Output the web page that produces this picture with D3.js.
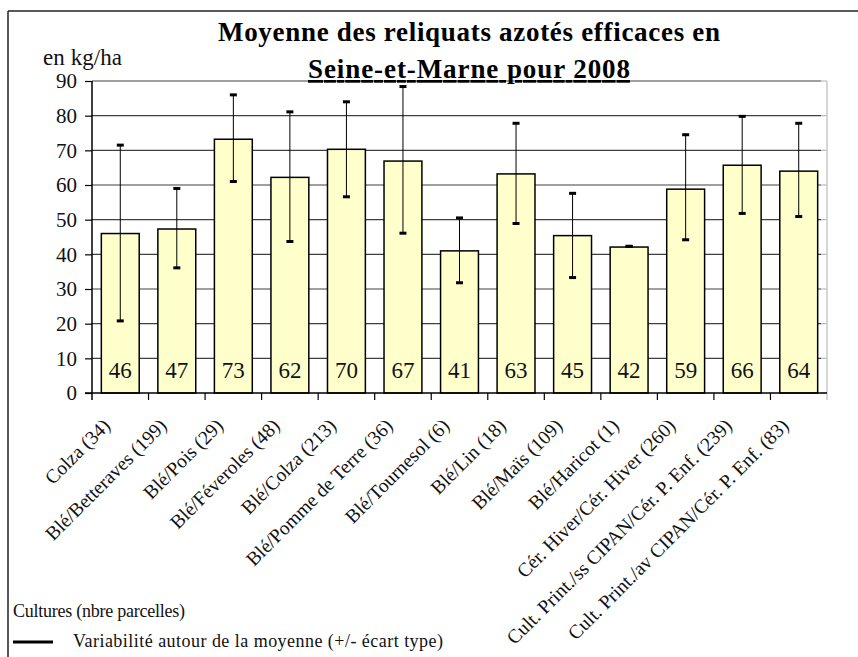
<!DOCTYPE html>
<html>
<head>
<meta charset="utf-8">
<script src="https://cdn.jsdelivr.net/npm/d3@7"></script>
<style>
  html, body { margin: 0; padding: 0; background: #fff; }
  #chart text { font-family: 'Liberation Serif'; }
</style>
</head>
<body>
<svg id="chart" width="858" height="657" font-family="Liberation Serif"></svg>
<script>
// Cultures (nbre parcelles)
const categories = [
  'Colza (34)', 'Blé/Betteraves (199)', 'Blé/Pois (29)', 'Blé/Féveroles (48)',
  'Blé/Colza (213)', 'Blé/Pomme de Terre (36)', 'Blé/Tournesol (6)', 'Blé/Lin (18)',
  'Blé/Maïs (109)', 'Blé/Haricot (1)', 'Cér. Hiver/Cér. Hiver (260)',
  'Cult. Print./ss CIPAN/Cér. P. Enf. (239)', 'Cult. Print./av CIPAN/Cér. P. Enf. (83)'
];
// moyenne des reliquats (kg/ha)
const means   = [46, 47.3, 73.2, 62.2, 70.3, 66.9, 41, 63.2, 45.4, 42.1, 58.8, 65.7, 64];
// bornes de l'écart type (moyenne -/+ écart type)
const errLow  = [20.8, 36.1, 61.0, 43.7, 56.6, 46.1, 31.8, 48.9, 33.3, 42.3, 44.2, 51.8, 50.9];
const errHigh = [71.5, 59.0, 86.0, 81.1, 84.0, 88.4, 50.5, 77.8, 57.6, 42.3, 74.5, 79.8, 77.8];
const yTicks  = [0, 10, 20, 30, 40, 50, 60, 70, 80, 90];

const data = categories.map((c, i) => ({ cat: c, mean: means[i], lo: errLow[i], hi: errHigh[i] }));

const svg = d3.select('#chart');

const x = d3.scaleBand().domain(categories).range([92, 827]).padding(0);
const y = d3.scaleLinear().domain([0, 90]).range([393, 81]);
const barW = x.bandwidth() * 0.67;
const cx = d => x(d.cat) + x.bandwidth() / 2;

function txt(sel, size) {
  return sel.attr('font-family', 'Liberation Serif')
    .style('font-family', "'Liberation Serif'")
    .attr('font-size', size)
    .attr('fill', '#111');
}

// outer frame (top + left only visible)
svg.append('line').attr('x1', 8).attr('x2', 858).attr('y1', 11).attr('y2', 11)
  .attr('stroke', '#222').attr('stroke-width', 1.5);
svg.append('line').attr('x1', 8).attr('x2', 8).attr('y1', 11).attr('y2', 657)
  .attr('stroke', '#222').attr('stroke-width', 1.5);

// gridlines
svg.append('g')
  .selectAll('line')
  .data(yTicks.filter(t => t > 0))
  .join('line')
    .attr('x1', 92).attr('x2', 821)
    .attr('y1', d => y(d)).attr('y2', d => y(d))
    .attr('stroke', '#404040').attr('stroke-width', 1.2);
svg.append('g')
  .selectAll('line')
  .data(yTicks)
  .join('line')
    .attr('x1', 821).attr('x2', 827)
    .attr('y1', d => y(d)).attr('y2', d => y(d))
    .attr('stroke', '#bbb').attr('stroke-width', 1.2);

// right plot border (light)
svg.append('line').attr('x1', 827).attr('x2', 827).attr('y1', y(90)).attr('y2', y(0) + 7)
  .attr('stroke', '#c8c8c8').attr('stroke-width', 1.5);

// bars
svg.append('g')
  .selectAll('rect')
  .data(data)
  .join('rect')
    .attr('x', d => cx(d) - barW / 2)
    .attr('y', d => y(d.mean))
    .attr('width', barW)
    .attr('height', d => y(0) - y(d.mean))
    .attr('fill', '#ffffcc')
    .attr('stroke', '#000')
    .attr('stroke-width', 1.5);

// value labels
svg.append('g')
  .selectAll('text')
  .data(data)
  .join('text')
    .attr('x', d => cx(d))
    .attr('y', y(0) - 15)
    .attr('text-anchor', 'middle')
    .call(txt, 23)
    .text(d => Math.round(d.mean));

// error bars
const err = svg.append('g').selectAll('g').data(data).join('g');
err.append('line')
  .attr('x1', d => cx(d)).attr('x2', d => cx(d))
  .attr('y1', d => y(d.hi)).attr('y2', d => y(d.lo))
  .attr('stroke', '#000').attr('stroke-width', 1);
err.append('line')
  .attr('x1', d => cx(d) - 3.5).attr('x2', d => cx(d) + 3.5)
  .attr('y1', d => y(d.hi)).attr('y2', d => y(d.hi))
  .attr('stroke', '#000').attr('stroke-width', 3);
err.append('line')
  .attr('x1', d => cx(d) - 3.5).attr('x2', d => cx(d) + 3.5)
  .attr('y1', d => y(d.lo)).attr('y2', d => y(d.lo))
  .attr('stroke', '#000').attr('stroke-width', 3);

// y axis
const yAxis = svg.append('g')
  .attr('transform', 'translate(92,0)')
  .call(d3.axisLeft(y).tickValues(yTicks).tickSize(7).tickPadding(8).tickFormat(d3.format('d')));
yAxis.attr('font-family', 'Liberation Serif');
yAxis.select('.domain').attr('d', `M0,${y(90)}V${y(0) + 7}`).attr('stroke', '#000').attr('stroke-width', 1.5);
yAxis.selectAll('.tick line').attr('stroke', '#000').attr('stroke-width', 1.2);
yAxis.selectAll('.tick text').call(txt, 21);

// x axis baseline + ticks at band boundaries
svg.append('line').attr('x1', 85).attr('x2', 827).attr('y1', y(0)).attr('y2', y(0))
  .attr('stroke', '#000').attr('stroke-width', 1.5);
svg.append('g')
  .selectAll('line')
  .data(categories.slice(1).map(c => x(c)))
  .join('line')
    .attr('x1', d => d).attr('x2', d => d)
    .attr('y1', y(0)).attr('y2', y(0) + 7)
    .attr('stroke', '#000').attr('stroke-width', 1.2);

// x labels rotated
svg.append('g')
  .selectAll('text')
  .data(data)
  .join('text')
    .attr('transform', d => `translate(${cx(d) - 9},${y(0) + 34}) rotate(-45)`)
    .attr('text-anchor', 'end')
    .call(txt, 19.5)
    .text(d => d.cat);

// titles (wide spacing as in the original)
svg.append('text')
  .attr('x', 218).attr('y', 41)
  .call(txt, 27)
  .attr('font-weight', 'bold').attr('fill', '#000')
  .attr('textLength', 502).attr('lengthAdjust', 'spacing')
  .text('Moyenne des reliquats azotés efficaces en');
svg.append('text')
  .attr('x', 308).attr('y', 78)
  .call(txt, 27)
  .attr('font-weight', 'bold').attr('fill', '#000')
  .attr('textLength', 322).attr('lengthAdjust', 'spacing')
  .attr('text-decoration', 'underline')
  .text('Seine-et-Marne pour 2008');

svg.append('text')
  .attr('x', 43).attr('y', 65)
  .call(txt, 23)
  .attr('textLength', 79).attr('lengthAdjust', 'spacing')
  .text('en kg/ha');

// legend
svg.append('text')
  .attr('x', 13).attr('y', 617)
  .call(txt, 18)
  .attr('textLength', 172).attr('lengthAdjust', 'spacing')
  .text('Cultures (nbre parcelles)');
svg.append('line').attr('x1', 13).attr('x2', 53).attr('y1', 642).attr('y2', 642)
  .attr('stroke', '#000').attr('stroke-width', 3);
svg.append('text')
  .attr('x', 73).attr('y', 647)
  .call(txt, 18)
  .attr('textLength', 370).attr('lengthAdjust', 'spacing')
  .text('Variabilité autour de la moyenne (+/- écart type)');
</script>
</body>
</html>
